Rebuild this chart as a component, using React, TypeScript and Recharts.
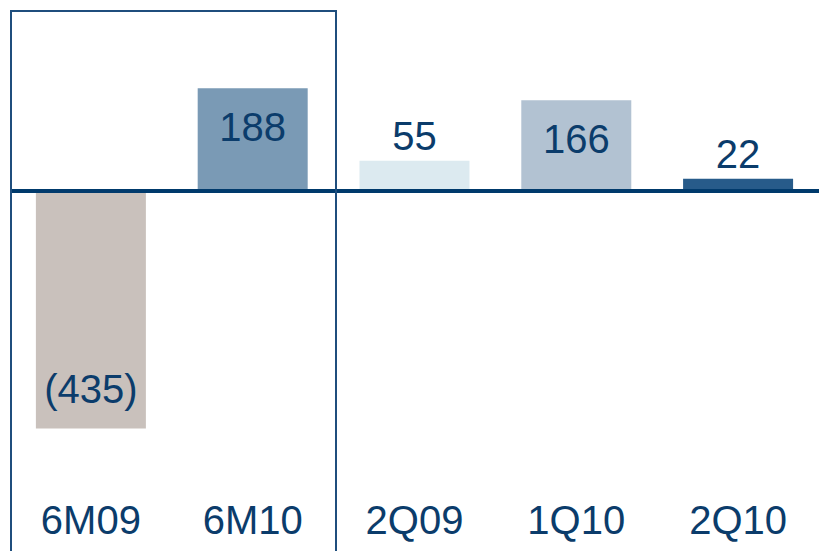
import { BarChart, Bar, XAxis, YAxis, Cell, LabelList, ReferenceLine } from 'recharts';

const periods = ['6M09', '6M10', '2Q09', '1Q10', '2Q10'];
const values = [-435, 188, 55, 166, 22];
const barColors = ['#C9C1BC', '#7A9AB5', '#DCEAF0', '#B2C2D2', '#275B8A'];

const NAVY = '#0B3C6B';
const FONT = '"Liberation Sans", Arial, sans-serif';

const data = periods.map((p, i) => ({ period: p, value: values[i] }));

const fmt = (v: number) => (v < 0 ? `(${Math.abs(v)})` : `${v}`);

const ValueLabel = (props: any) => {
  const { x, y, width, height, value } = props;
  const cx = x + width / 2;
  const top = Math.min(y, y + height);
  const bottom = Math.max(y, y + height);
  const h = bottom - top;
  let ty: number;
  if (value < 0) {
    // inside, near the bottom end
    ty = bottom - 25;
  } else if (h > 60) {
    ty = top + 53;
  } else {
    ty = top - 11;
  }
  return (
    <text x={cx} y={ty} textAnchor="middle" fill={NAVY} fontSize={40} fontFamily={FONT}>
      {fmt(value)}
    </text>
  );
};

const PeriodTick = (props: any) => {
  const { x, y, payload } = props;
  return (
    <text x={x} y={y + 62} textAnchor="middle" fill={NAVY} fontSize={40} fontFamily={FONT}>
      {payload.value}
    </text>
  );
};

export default function App() {
  return (
    <div style={{ position: 'absolute', left: 0, top: 0, width: 819, height: 551, background: '#fff', overflow: 'hidden' }}>
      <BarChart
        width={819}
        height={551}
        data={data}
        margin={{ top: 27, right: 0, left: 10, bottom: 0 }}
        barCategoryGap="16%"
      >
        <XAxis dataKey="period" axisLine={false} tickLine={false} height={87} tick={<PeriodTick />} interval={0} />
        <YAxis hide domain={[-500, 300]} />
        <Bar dataKey="value" isAnimationActive={false}>
          {data.map((d, i) => (
            <Cell key={d.period} fill={barColors[i]} />
          ))}
          <LabelList dataKey="value" content={<ValueLabel />} />
        </Bar>
        <ReferenceLine y={0} stroke="#003A6C" strokeWidth={4} ifOverflow="extendDomain" />
      </BarChart>
      <div
        style={{
          position: 'absolute',
          left: 10,
          top: 10,
          width: 323,
          height: 580,
          border: '2px solid #1F4E7D',
          pointerEvents: 'none',
        }}
      />
    </div>
  );
}
